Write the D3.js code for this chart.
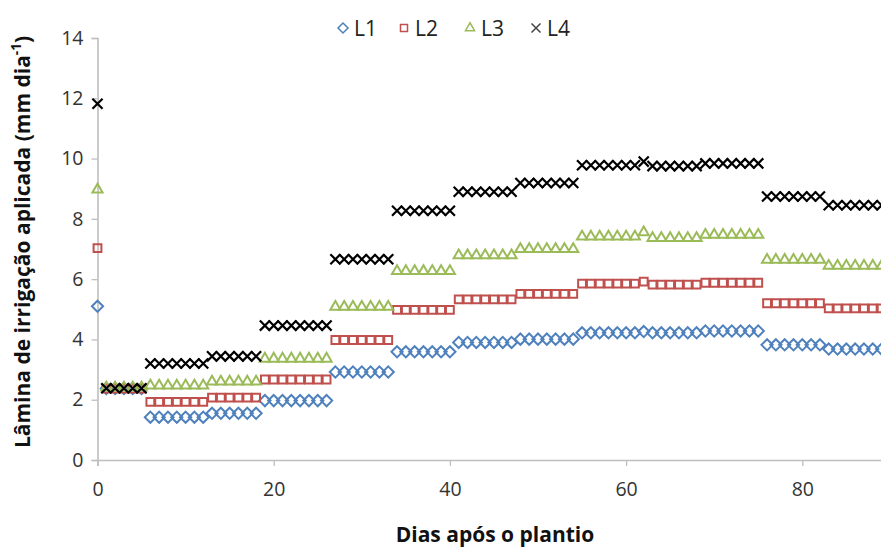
<!DOCTYPE html>
<html>
<head>
<meta charset="utf-8">
<script src="https://cdn.jsdelivr.net/npm/d3@7"></script>
<style>
  html, body { margin: 0; padding: 0; background: #fff; overflow: hidden; }
  svg { display: block; font-family: "Open Sans", "DejaVu Sans", sans-serif; }
</style>
</head>
<body>
<svg id="chart" width="881" height="548"></svg>
<script>
// Irrigation periods (first and last day after planting) and the daily depth applied in each
const periodStart = [0, 1, 6, 13, 19, 27, 34, 41, 48, 55, 62, 63, 69, 76, 83];
const periodEnd   = [0, 5, 12, 18, 26, 33, 40, 47, 54, 61, 62, 68, 75, 82, 89];

const L1 = [5.10, 2.37, 1.42, 1.55, 1.97, 2.92, 3.59, 3.90, 4.01, 4.22, 4.26, 4.22, 4.28, 3.82, 3.68];
const L2 = [7.03, 2.37, 1.93, 2.07, 2.67, 3.98, 4.98, 5.33, 5.51, 5.85, 5.92, 5.82, 5.88, 5.20, 5.03];
const L3 = [8.97, 2.40, 2.47, 2.60, 3.36, 5.08, 6.27, 6.79, 7.00, 7.41, 7.55, 7.36, 7.47, 6.64, 6.44];
const L4 = [11.82, 2.38, 3.20, 3.44, 4.46, 6.66, 8.27, 8.90, 9.19, 9.78, 9.90, 9.75, 9.84, 8.74, 8.45];

const seriesNames = ["L1", "L2", "L3", "L4"];
const xTicks = [0, 20, 40, 60, 80];
const yTicks = [0, 2, 4, 6, 8, 10, 12, 14];

const colors = { L1: "#4f81bd", L2: "#c0504d", L3: "#9bbb59", L4: "#000000" };
const symbols = { L1: d3.symbolDiamond2, L2: d3.symbolSquare2, L3: d3.symbolTriangle2, L4: d3.symbolTimes };
const symSize = { L1: 80, L2: 78, L3: 74, L4: 68 };

const svg = d3.select("#chart");

const x = d3.scaleLinear().domain([0, 90]).range([97.5, 97.5 + 90 * 8.81]);
const y = d3.scaleLinear().domain([0, 14]).range([460, 38]);

const axisColor = "#bfbfbf";
const labelColor = "#333";

// Y axis
const gy = svg.append("g").attr("transform", `translate(${x(0)},0)`)
  .call(d3.axisLeft(y).tickValues(yTicks).tickSize(6).tickPadding(8).tickFormat(d3.format("d")));
gy.select(".domain").attr("stroke", axisColor).attr("stroke-width", 1.6);
gy.selectAll(".tick line").attr("stroke", axisColor).attr("stroke-width", 1.3);
gy.selectAll(".tick text").attr("fill", labelColor).attr("font-size", 19.5)
  .attr("font-family", "'Open Sans', sans-serif");

// X axis
const gx = svg.append("g").attr("transform", `translate(0,${y(0)})`)
  .call(d3.axisBottom(x).tickValues(xTicks).tickSize(6).tickPadding(16).tickFormat(d3.format("d")));
gx.select(".domain").attr("stroke", axisColor).attr("stroke-width", 1.6);
gx.selectAll(".tick line").attr("stroke", axisColor).attr("stroke-width", 1.3);
gx.selectAll(".tick text").attr("fill", labelColor).attr("font-size", 19.5)
  .attr("font-family", "'Open Sans', sans-serif");

// Expand each period into daily points
const seriesValues = { L1, L2, L3, L4 };
function dailyPoints(vals) {
  const pts = [];
  periodStart.forEach((s, i) => {
    for (let d = s; d <= periodEnd[i]; d++) pts.push({ day: d, value: vals[i] });
  });
  return pts;
}

seriesNames.forEach(name => {
  const g = svg.append("g").attr("class", "series-" + name);
  const sym = d3.symbol().type(symbols[name]).size(symSize[name]);
  g.selectAll("path")
    .data(dailyPoints(seriesValues[name]))
    .join("path")
    .attr("d", sym)
    .attr("transform", d => `translate(${x(d.day)},${y(d.value)})`)
    .attr("fill", "none")
    .attr("stroke", colors[name])
    .attr("stroke-width", name === "L4" ? 2.2 : 2);
});

// Legend
const legendX = [343, 404, 470, 536];
const legend = svg.append("g");
seriesNames.forEach((name, i) => {
  const sym = d3.symbol().type(symbols[name]).size(symSize[name] * 0.8);
  legend.append("path")
    .attr("d", sym)
    .attr("transform", `translate(${legendX[i]},28)`)
    .attr("fill", "none")
    .attr("stroke", name === "L4" ? "#444" : colors[name])
    .attr("stroke-width", 1.5);
  legend.append("text")
    .attr("x", legendX[i] + 11)
    .attr("y", 28)
    .attr("dy", "0.36em")
    .attr("font-size", 21)
    .attr("fill", "#222")
    .text(name);
});

// Axis titles
svg.append("text")
  .attr("x", 495)
  .attr("y", 534)
  .attr("dy", "0.36em")
  .attr("text-anchor", "middle")
  .attr("font-size", 21)
  .attr("font-weight", "bold")
  .attr("fill", "#111")
  .text("Dias após o plantio");

const yTitle = svg.append("text")
  .attr("transform", "translate(22,242) rotate(-90)")
  .attr("text-anchor", "middle")
  .attr("dy", "0.36em")
  .attr("font-size", 21)
  .attr("font-weight", "bold")
  .attr("fill", "#111");
yTitle.append("tspan").text("Lâmina de irrigação aplicada (mm dia");
yTitle.append("tspan").attr("font-size", 13.5).attr("dy", "-0.6em").text("-1");
yTitle.append("tspan").attr("dy", "0.4em").text(")");
</script>
</body>
</html>
